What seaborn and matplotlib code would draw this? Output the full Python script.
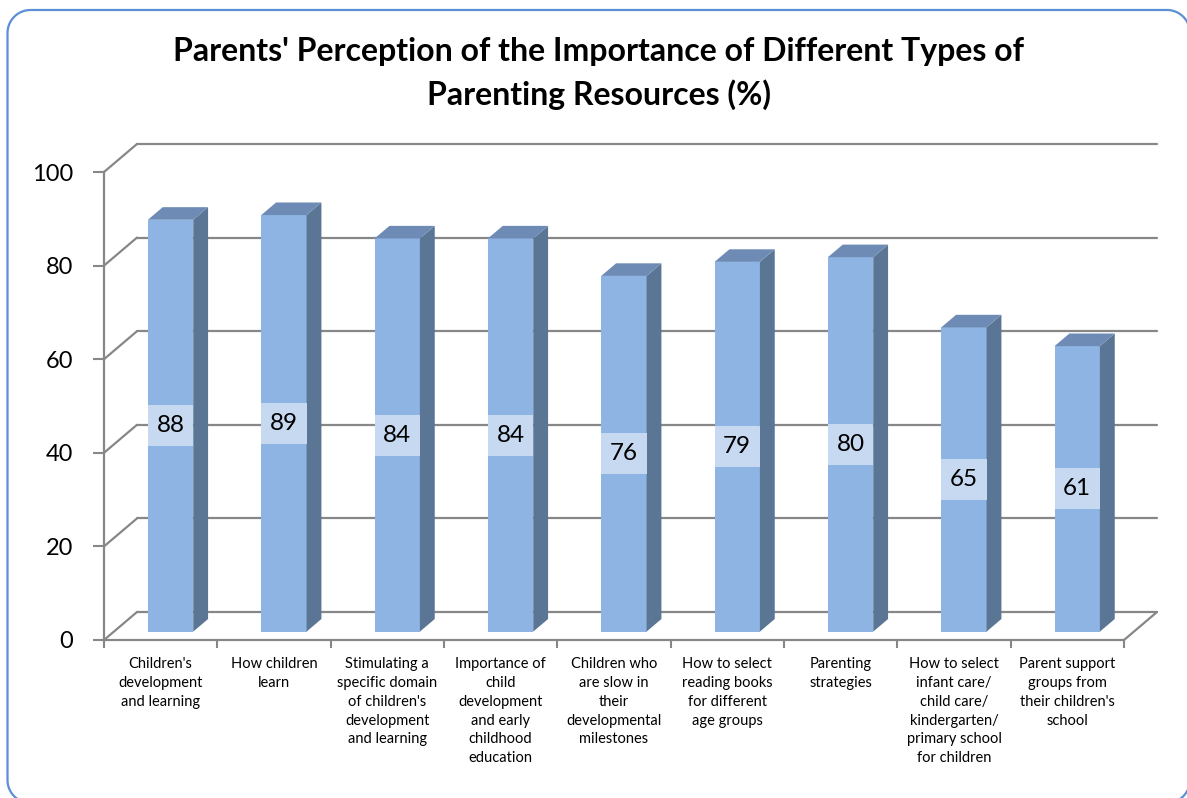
import matplotlib
matplotlib.use("Agg")
import matplotlib.pyplot as plt
from matplotlib.patches import Polygon, Rectangle
import numpy as np
import pandas as pd
import seaborn as sns

# ---- data -------------------------------------------------------------
categories = [
    "Children's development and learning",
    "How children learn",
    "Stimulating a specific domain of children's development and learning",
    "Importance of child development and early childhood education",
    "Children who are slow in their developmental milestones",
    "How to select reading books for different age groups",
    "Parenting strategies",
    "How to select infant care/ child care/ kindergarten/ primary school for children",
    "Parent support groups from their children's school",
]
values = [88, 89, 84, 84, 76, 79, 80, 65, 61]
tick_labels = [
    "Children's\ndevelopment\nand learning",
    "How children\nlearn",
    "Stimulating a\nspecific domain\nof children's\ndevelopment\nand learning",
    "Importance of\nchild\ndevelopment\nand early\nchildhood\neducation",
    "Children who\nare slow in\ntheir\ndevelopmental\nmilestones",
    "How to select\nreading books\nfor different\nage groups",
    "Parenting\nstrategies",
    "How to select\ninfant care/\nchild care/\nkindergarten/\nprimary school\nfor children",
    "Parent support\ngroups from\ntheir children's\nschool",
]
y_ticks = [0, 20, 40, 60, 80, 100]
title_lines = [
    "Parents' Perception of the Importance of Different Types of",
    "Parenting Resources (%)",
]

# ---- styling ----------------------------------------------------------
FRONT = "#8db4e2"
SIDE = "#5b7595"
TOP = "#6e8bb6"
LABEL_BOX = "#c6d9f1"
GRID = "#878787"
FRAME = "#5b8fd6"

W, H, DPI = 1187, 798, 100
sns.set_theme(style="white")
plt.rcParams["font.family"] = ["Lato", "DejaVu Sans"]

fig = plt.figure(figsize=(W / DPI, H / DPI), dpi=DPI)
fig.patch.set_facecolor("white")


def rounded_rect(left, bottom, right, top, r, n=24):
    """Outline of a rounded rectangle as a polyline (pixel units)."""
    pts = []
    corners = [(right - r, top - r, 0), (left + r, top - r, 90),
               (left + r, bottom + r, 180), (right - r, bottom + r, 270)]
    for cx, cy, start in corners:
        t = np.radians(np.linspace(start, start + 90, n))
        pts.append(np.column_stack([cx + r * np.cos(t), cy + r * np.sin(t)]))
    pts = np.vstack(pts + [pts[0][:1]])
    return pts[:, 0], pts[:, 1]


# full-figure layer in pixel units for the rounded chart-area frame
bg = fig.add_axes([0, 0, 1, 1], zorder=-1)
bg.set_xlim(0, W)
bg.set_ylim(0, H)
bg.axis("off")
fx, fy = rounded_rect(7.5, -5, 1190, H - 10, 23)
bg.plot(fx, fy, color=FRAME, lw=1.6, clip_on=False)

# plot area: front plane of the pseudo-3D box
ax_left, ax_bottom, ax_w, ax_h = 104, H - 640, 1020, 468
ax = fig.add_axes([ax_left / W, ax_bottom / H, ax_w / W, ax_h / H])
ax.set_facecolor("none")

df = pd.DataFrame({"category": categories, "value": values})
sns.barplot(data=df, x="category", y="value", ax=ax, width=0.4, color=FRONT,
            saturation=1, edgecolor="none", zorder=3)
ax.set_xlim(-0.5, len(categories) - 0.5)
ax.set_ylim(0, 100)

# pixel -> data conversion for the depth offsets
px_x = (len(categories)) / ax_w
px_y = 100 / ax_h
DEPTH_X, DEPTH_Y = 33 * px_x, 28 * px_y          # full floor depth
front_dx, front_dy = 0.30 * DEPTH_X, 0.30 * DEPTH_Y
side_dx, side_dy = 0.45 * DEPTH_X, 0.45 * DEPTH_Y

# back wall, side wall and floor lines
x0, x1 = -0.5, len(categories) - 0.5
for v in y_ticks:
    ax.plot([x0, x0 + DEPTH_X], [v, v + DEPTH_Y], color=GRID, lw=1.6,
            clip_on=False, zorder=1, solid_capstyle="round")
    ax.plot([x0 + DEPTH_X, x1 + DEPTH_X], [v + DEPTH_Y, v + DEPTH_Y], color=GRID,
            lw=1.6, clip_on=False, zorder=1)
ax.plot([x1, x1 + DEPTH_X], [0, DEPTH_Y], color=GRID, lw=1.6, clip_on=False, zorder=1)

# extrude each bar and label it
for patch, v in zip(ax.patches, values):
    bx = patch.get_x() + front_dx
    bw = patch.get_width()
    by = front_dy
    patch.set_x(bx)
    patch.set_y(by)
    patch.set_clip_on(False)
    top = by + v
    ax.add_patch(Polygon([(bx + bw, by), (bx + bw + side_dx, by + side_dy),
                          (bx + bw + side_dx, top + side_dy), (bx + bw, top)],
                         closed=True, facecolor=SIDE, edgecolor="none",
                         zorder=3, clip_on=False))
    ax.add_patch(Polygon([(bx, top), (bx + bw, top), (bx + bw + side_dx, top + side_dy),
                          (bx + side_dx, top + side_dy)],
                         closed=True, facecolor=TOP, edgecolor="none",
                         zorder=3, clip_on=False))
    box_h = 41 * px_y
    cy = by + v / 2
    ax.add_patch(Rectangle((bx, cy - box_h / 2), bw, box_h, facecolor=LABEL_BOX,
                           edgecolor="none", zorder=4, clip_on=False))
    ax.text(bx + bw / 2, cy, f"{v}", ha="center", va="center", fontsize=17.5,
            color="black", zorder=5)

# axes, ticks and labels
for side in ("top", "right"):
    ax.spines[side].set_visible(False)
for side in ("left", "bottom"):
    ax.spines[side].set_color(GRID)
    ax.spines[side].set_linewidth(1.6)
ax.set_yticks(y_ticks)
ax.tick_params(axis="y", direction="out", length=8, width=1.5, color=GRID,
               labelsize=17, pad=14, left=True, labelcolor="black")
ax.set_xticks(range(len(categories)))
ax.set_xticklabels(tick_labels, fontsize=10.5, linespacing=1.45, color="black")
ax.set_xticks([i - 0.5 for i in range(len(categories) + 1)], minor=True)
ax.tick_params(axis="x", which="major", length=0, pad=12)
ax.tick_params(axis="x", which="minor", direction="out", length=6, width=1.5,
               color=GRID, bottom=True)
ax.set_xlabel("")
ax.set_ylabel("")
ax.grid(False)

# title
fig.text(599 / W, 1 - 52 / H, title_lines[0], ha="center", va="center",
         fontsize=23, fontweight="bold", color="black")
fig.text(599 / W, 1 - 95 / H, title_lines[1], ha="center", va="center",
         fontsize=23, fontweight="bold", color="black")

fig.savefig("out.png", dpi=DPI, facecolor="white")
